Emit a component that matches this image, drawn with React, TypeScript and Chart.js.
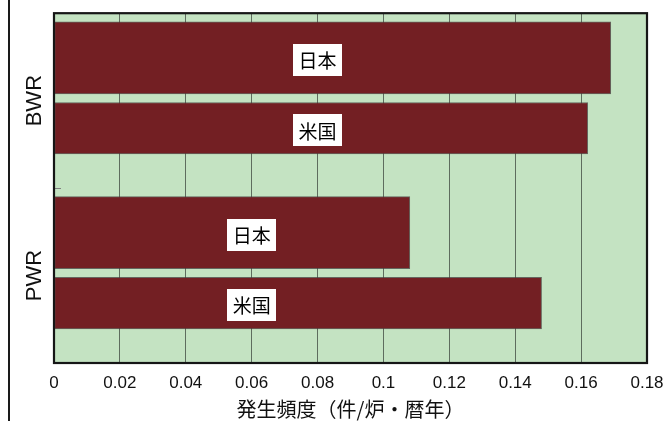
import React, { useEffect, useRef } from "react";
import { Chart, registerables } from "chart.js";

Chart.register(...registerables);

const categories = ["BWR", "PWR"];
const seriesNames = ["日本", "米国"];
const japanValues = [0.169, 0.108];
const usValues = [0.162, 0.148];
const xTickValues = [0, 0.02, 0.04, 0.06, 0.08, 0.1, 0.12, 0.14, 0.16, 0.18];
const xTitle = "発生頻度（件/炉・暦年）";

// layout constants (not data)
const slotOffsets = [0.255, 0.658];
const slotThickness = [72, 51.5];
const labelAnchorX = [0.08, 0.06];

const LATIN = "'Liberation Sans', Arial, 'Noto Sans CJK JP', sans-serif";
const CJK = "'Noto Sans CJK JP', 'Noto Sans CJK SC', sans-serif";

const plotBg = {
  id: "plotBg",
  beforeDraw(chart: any) {
    const { ctx, chartArea } = chart;
    ctx.save();
    ctx.fillStyle = "#c4e3c2";
    ctx.fillRect(chartArea.left, chartArea.top, chartArea.right - chartArea.left, chartArea.bottom - chartArea.top);
    ctx.restore();
  },
};

const frameAndLabels = {
  id: "frameAndLabels",
  afterDatasetsDraw(chart: any) {
    const { ctx, chartArea } = chart;
    ctx.save();
    ctx.strokeStyle = "#161616";
    ctx.lineWidth = 2.2;
    ctx.strokeRect(chartArea.left, chartArea.top, chartArea.right - chartArea.left, chartArea.bottom - chartArea.top);
    const xs = chart.scales.x;
    chart.data.datasets.forEach((ds: any, di: number) => {
      const meta = chart.getDatasetMeta(di);
      meta.data.forEach((el: any, i: number) => {
        const cx = xs.getPixelForValue(labelAnchorX[i]);
        const cy = el.y + 2;
        const w = 49;
        const h = 32;
        ctx.fillStyle = "#ffffff";
        ctx.fillRect(Math.round(cx - w / 2), Math.round(cy - h / 2), w, h);
        ctx.fillStyle = "#000000";
        ctx.font = `19px ${CJK}`;
        ctx.textAlign = "center";
        ctx.textBaseline = "middle";
        ctx.fillText(ds.label, cx, cy + 1);
      });
    });
    ctx.restore();
  },
};

export default function App() {
  const ref = useRef<HTMLCanvasElement | null>(null);

  useEffect(() => {
    if (!ref.current) return;
    const values = [japanValues, usValues];
    const chart = new Chart(ref.current, {
      type: "bar",
      data: {
        datasets: seriesNames.map((name, si) => ({
          label: name,
          data: values[si].map((v, ci) => ({ x: v, y: ci + slotOffsets[si] })),
          yAxisID: "yb",
          xAxisID: "x",
          backgroundColor: "#731f23",
          borderColor: "rgba(70,60,60,0.75)",
          borderWidth: 1,
          borderSkipped: false,
          barThickness: slotThickness[si],
        })),
      },
      options: {
        indexAxis: "y",
        animation: false,
        responsive: false,
        maintainAspectRatio: false,
        devicePixelRatio: 1,
        layout: { padding: { left: 0, top: 12, right: 16, bottom: 0 } },
        plugins: {
          legend: { display: false },
          tooltip: { enabled: false },
          title: { display: false },
        },
        scales: {
          x: {
            type: "linear",
            position: "bottom",
            min: 0,
            max: 0.18,
            stacked: false,
            afterBuildTicks: (scale: any) => {
              scale.ticks = xTickValues.map((v) => ({ value: v }));
            },
            afterFit: (scale: any) => {
              scale.height = 58;
              scale.paddingLeft = 0;
              scale.paddingRight = 0;
            },
            ticks: {
              padding: 10,
              color: "#111111",
              font: { family: LATIN, size: 17 },
              callback: (v: any) => String(Number(Number(v).toFixed(2))),
            },
            grid: {
              color: "#5e6c5e",
              lineWidth: 1,
              drawTicks: false,
            },
            border: { display: false },
            title: {
              display: true,
              text: xTitle,
              color: "#111111",
              font: { family: CJK, size: 20, lineHeight: 1 },
              padding: { top: 0, bottom: 2 },
            },
          },
          y: {
            type: "category",
            position: "left",
            labels: categories,
            offset: true,
            afterFit: (scale: any) => {
              scale.width = 54;
            },
            ticks: {
              minRotation: 90,
              maxRotation: 90,
              crossAlign: "center",
              padding: 0,
              color: "#111111",
              font: { family: LATIN, size: 22 },
            },
            grid: {
              display: true,
              offset: true,
              drawOnChartArea: false,
              drawTicks: true,
              tickLength: -7,
              color: "#808080",
              lineWidth: 1,
            },
            border: { display: false },
          },
          yb: {
            type: "linear",
            position: "left",
            display: false,
            min: 0,
            max: 2,
            reverse: true,
            stacked: true,
            offset: false,
            grid: { offset: false },
          },
        },
      } as any,
      plugins: [plotBg, frameAndLabels],
    });
    return () => chart.destroy();
  }, []);

  return (
    <div style={{ position: "absolute", left: 0, top: 0, width: 663, height: 421, background: "#ffffff" }}>
      <div style={{ position: "absolute", left: 8, top: 0, width: 2, height: 421, background: "#1a1a1a" }} />
      <canvas ref={ref} width={663} height={421} style={{ position: "absolute", left: 0, top: 0, width: 663, height: 421 }} />
    </div>
  );
}
